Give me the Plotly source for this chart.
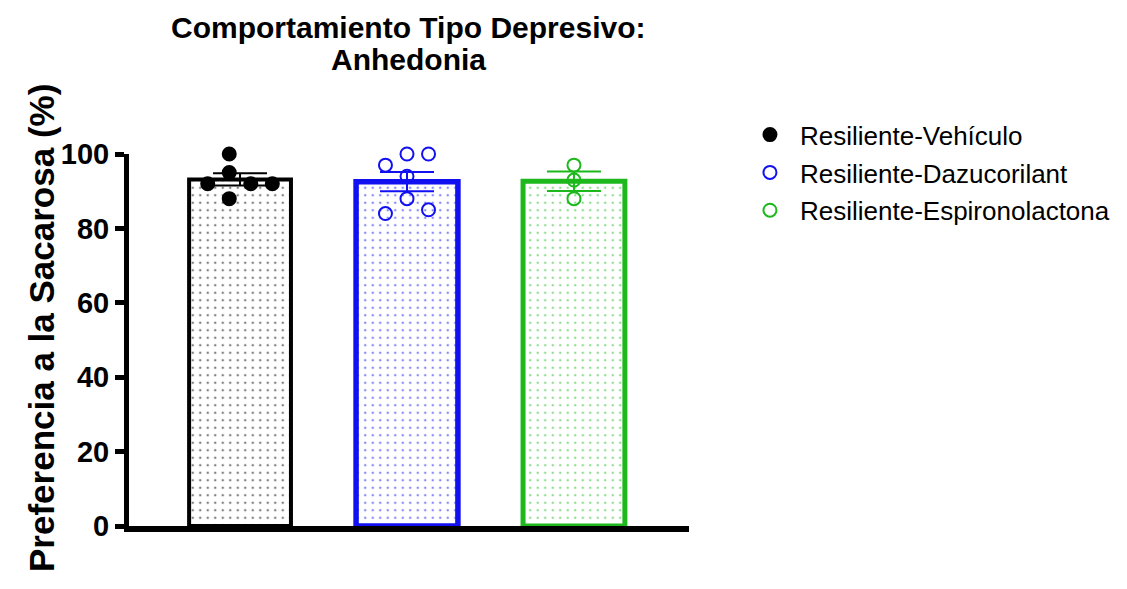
import numpy as np
import plotly.graph_objects as go

# Sucrose preference (%) per animal
GROUPS = ["Resiliente-Vehículo", "Resiliente-Dazucorilant", "Resiliente-Espironolactona"]
VEHICULO = [100, 95, 92, 92, 92, 88]
DAZUCORILANT = [100, 100, 97, 94, 88, 84, 85]
ESPIRONOLACTONA = [97, 93, 88]
Y_TICKS = [0, 20, 40, 60, 80, 100]

# horizontal scatter slots for overlapping points (layout only)
SLOTS = [
    [-0.5, -0.5, -1.5, 0.5, 1.5, -0.5],
    [0, 1, -1, 0, 0, -1, 1],
    [0, 0, 0],
]
SLOT_W = 0.129

COLORS = ["#000000", "#1010F0", "#1CB81C"]
BAR_LINE = [4, 5.5, 5]
FILLED = [True, False, False]
FONT = "Liberation Sans, Arial, sans-serif"

values = [VEHICULO, DAZUCORILANT, ESPIRONOLACTONA]
means = [float(np.mean(v)) for v in values]
sems = [float(np.std(v, ddof=1) / np.sqrt(len(v))) for v in values]

fig = go.Figure()

for i, (name, vals) in enumerate(zip(GROUPS, values)):
    c = COLORS[i]
    fig.add_trace(go.Bar(
        x=[i], y=[means[i]], width=0.61,
        marker=dict(color="white", line=dict(color=c, width=BAR_LINE[i]),
                    pattern=dict(shape=".", fgcolor=c, bgcolor="white",
                                 size=7.5, solidity=0.09)),
        error_y=dict(type="data", array=[sems[i]], color=c, thickness=2, width=27),
        showlegend=False, hoverinfo="skip",
    ))

for i, (name, vals) in enumerate(zip(GROUPS, values)):
    c = COLORS[i]
    xs = [i + s * SLOT_W for s in SLOTS[i]]
    fig.add_trace(go.Scatter(
        x=xs, y=vals, mode="markers", name=name, legendgroup=name,
        cliponaxis=False,
        marker=dict(size=13, symbol="circle" if FILLED[i] else "circle-open",
                    color=c, line=dict(color=c, width=2)),
    ))

fig.update_layout(
    width=1127, height=589,
    margin=dict(l=129, r=438, t=154, b=63),
    paper_bgcolor="white", plot_bgcolor="white",
    font=dict(family=FONT, color="black"),
    barmode="overlay",
    legend=dict(x=1.091, xanchor="left", y=1.115, yanchor="top",
                font=dict(size=26, family=FONT), tracegroupgap=1,
                itemwidth=50, bgcolor="rgba(0,0,0,0)"),
    xaxis=dict(range=[-0.665, 2.689], showticklabels=False, ticks="",
               showgrid=False, zeroline=False, showline=True,
               linecolor="black", linewidth=6),
    yaxis=dict(range=[0, 100], tickvals=Y_TICKS, ticks="outside", ticklen=9,
               tickwidth=5, tickcolor="black", showgrid=False, zeroline=False,
               showline=True, linecolor="black", linewidth=5,
               tickfont=dict(size=29, family=FONT, weight="bold")),
)

# two-line title, centred over the bars
for line, py in [("Comportamiento Tipo Depresivo:", 27), ("Anhedonia", 59)]:
    fig.add_annotation(
        text=f"<b>{line}</b>", xref="paper", yref="paper",
        x=(408 - 129) / 560, y=(526 - py) / 372,
        xanchor="center", yanchor="middle", showarrow=False,
        font=dict(size=30, family=FONT, color="black"),
    )

fig.add_annotation(
    text="<b>Preferencia a la Sacarosa (%)</b>", textangle=-90,
    xref="paper", yref="paper", x=(41 - 129) / 560, y=(526 - 328) / 372,
    xanchor="center", yanchor="middle", showarrow=False,
    font=dict(size=35, family=FONT, color="black"),
)

fig.write_html("out.html")
